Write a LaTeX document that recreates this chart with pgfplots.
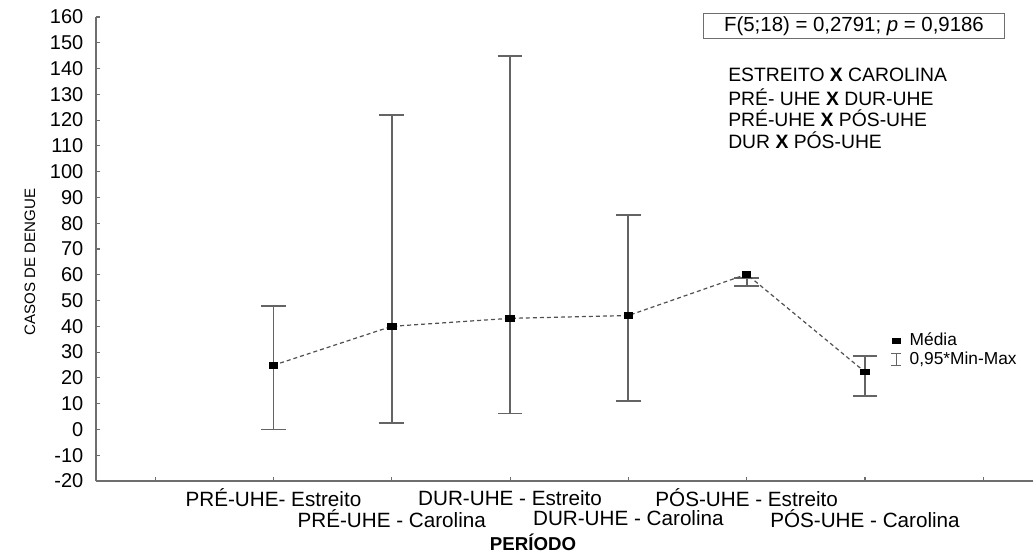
\documentclass[border=0pt]{standalone}
\usepackage{pgfplots}
\pgfplotsset{compat=1.18}
\usepackage{fontspec}
\setmainfont{Liberation Sans}
\definecolor{axcol}{RGB}{110,110,110}
\definecolor{barcol}{RGB}{100,100,100}
\definecolor{lncol}{RGB}{80,80,80}
\begin{document}
\begin{tikzpicture}
\path[use as bounding box] (-72pt,-54.75pt) rectangle (704.25pt,360.75pt);
\begin{axis}[
  at={(0pt,0pt)}, anchor=south west,
  scale only axis, width=702.75pt, height=348pt,
  xmin=-0.5, xmax=7.42, ymin=-20, ymax=160,
  axis x line*=bottom, axis y line*=left,
  axis line style={draw=axcol, line width=1.1pt},
  xtick={0,...,7}, xticklabels={},
  ytick={-20,-10,...,160},
  tick align=inside, major tick length=3pt,
  tick style={draw=axcol, line width=0.8pt},
  font=\fontsize{14}{16}\selectfont,
  /pgf/number format/assume math mode=true,
  yticklabel style={font=\fontsize{15}{17}\selectfont, xshift=-6pt},
  clip=false,
  legend style={at={(0.848,0.325)}, anchor=north west, draw=none, fill=none,
    font=\fontsize{13}{15}\selectfont, inner sep=0pt, row sep=-1pt},
  legend cell align=left,
]
% range bars (0.95*Min-Max): centre and half range
\addplot[forget plot, draw=none, mark=none, line width=1.4pt,
  error bars/.cd, y dir=both, y explicit, error mark=|,
  error bar style={draw=barcol, line width=1.4pt, solid},
  error mark options={draw=barcol, line width=1.4pt, mark size=9.3pt}]
coordinates {
  (1,24.0)   +- (0,24.0)
  (2,62.2)   +- (0,59.8)
  (3,75.6)   +- (0,69.4)
  (4,47.15)  +- (0,36.15)
  (5,57.15)  +- (0,1.55)
  (6,20.7)   +- (0,7.8)
};
% means
\addplot[forget plot, color=lncol, line width=0.9pt, dash pattern=on 3pt off 2.25pt,
  mark=square*, mark size=2.6pt,
  mark options={solid, fill=black, draw=black, xscale=1.2, yscale=0.8}]
coordinates {(1,24.9) (2,40.0) (3,43.1) (4,44.2) (5,60.2) (6,22.3)};
\addlegendimage{legend image code/.code={\fill[black] (-3pt,-2pt) rectangle (3pt,2pt); \path (8pt,0pt);}}
\addlegendentry{Média}
\addlegendimage{legend image code/.code={\draw[barcol, line width=0.9pt] (0,-4.5pt)--(0,4.5pt) (-3.5pt,-4.5pt)--(3.5pt,-4.5pt) (-3.5pt,4.5pt)--(3.5pt,4.5pt); \path (8pt,0pt);}}
\addlegendentry{0,95*Min-Max}
% category labels
\begin{scope}[every node/.style={font=\fontsize{15.5}{17}\selectfont, anchor=center}]
\node[yshift=-12.5pt] at (axis cs:1,-20) {PRÉ-UHE- Estreito};
\node[yshift=-28pt] at (axis cs:2,-20) {PRÉ-UHE - Carolina};
\node[yshift=-12.5pt] at (axis cs:3,-20) {DUR-UHE - Estreito};
\node[yshift=-28pt] at (axis cs:4,-20) {DUR-UHE - Carolina};
\node[yshift=-12.5pt] at (axis cs:5,-20) {PÓS-UHE - Estreito};
\node[yshift=-28pt] at (axis cs:6,-20) {PÓS-UHE - Carolina};
\end{scope}
\end{axis}
\node[font=\fontsize{14}{16}\selectfont\bfseries] at (327.75pt,-45.75pt) {PERÍODO};
\node[font=\fontsize{11.3}{13}\selectfont, rotate=90] at (-49.5pt,164.25pt) {CASOS DE DENGUE};
\node[draw=axcol, line width=0.8pt, font=\fontsize{15.3}{17}\selectfont, minimum width=226pt, minimum height=19pt, inner sep=1pt] at (568.5pt,341.25pt) {F(5;18) = 0,2791; \textit{p} = 0,9186};
\begin{scope}[every node/.style={anchor=west, font=\fontsize{14.5}{16}\selectfont, inner sep=0pt}]
\node at (474pt,304.5pt) {ESTREITO \textbf{X} CAROLINA};
\node at (474pt,288pt) {PRÉ- UHE \textbf{X} DUR-UHE};
\node at (474pt,272.25pt) {PRÉ-UHE \textbf{X} PÓS-UHE};
\node at (474pt,255.75pt) {DUR \textbf{X} PÓS-UHE};
\end{scope}
\end{tikzpicture}
\end{document}
